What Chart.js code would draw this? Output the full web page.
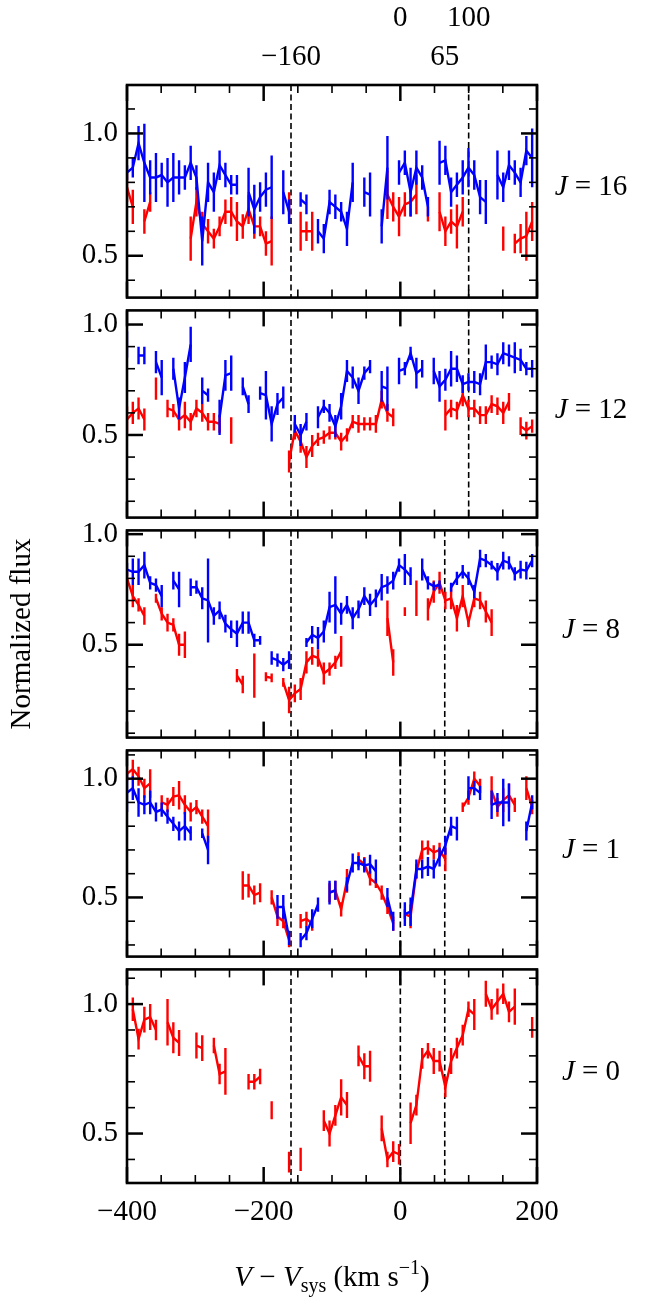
<!DOCTYPE html>
<html>
<head>
<meta charset="utf-8">
<script src="https://cdn.jsdelivr.net/npm/chart.js@4.4.0/dist/chart.umd.min.js"></script>
<style>
  body { margin: 0; background: #fff; width: 654px; height: 1299px; position: relative; overflow: hidden; }
  canvas { position: absolute; left: 0; }
</style>
</head>
<body>
<script>
// velocity grid (km/s)
const vel = [
  -400,-391.5,-383.1,-374.6,-366.1,-357.6,-349.2,-340.7,-332.2,-323.8,
  -315.3,-306.8,-298.4,-289.9,-281.4,-272.9,-264.5,-256,-247.5,-239.1,
  -230.6,-222.1,-213.7,-205.2,-196.7,-188.3,-179.8,-171.3,-162.8,-154.4,
  -145.9,-137.4,-129,-120.5,-112,-103.6,-95.1,-86.6,-78.1,-69.7,
  -61.2,-52.7,-44.3,-35.8,-27.3,-18.9,-10.4,-1.9,6.6,15,
  23.5,32,40.4,48.9,57.4,65.9,74.3,82.8,91.3,99.7,
  108.2,116.7,125.1,133.6,142.1,150.6,159,167.5,176,184.4,
  192.9
];

// J = 16
const blue16 = [0.84,0.86,0.96,0.88,0.82,0.82,0.83,0.80,0.82,0.82,
  0.82,0.88,0.82,0.56,0.80,0.76,0.87,0.83,0.79,0.79,
  null,0.76,0.69,0.74,0.77,0.78,null,0.76,0.68,null,
  0.73,0.71,null,0.60,0.57,0.72,0.70,0.68,0.61,0.80,
  null,0.76,0.75,null,0.62,0.86,null,0.84,0.88,0.76,
  0.86,0.82,0.70,null,0.88,0.89,0.76,0.79,0.82,0.86,
  0.83,0.74,0.72,null,0.83,0.78,0.87,0.84,0.80,0.93,
  0.90];
const blue16Err = [.03,.04,.07,.16,.07,.10,.05,.10,.10,.07,
  .05,.07,.05,.10,.08,.08,.06,.05,.04,.04,
  0,.10,.10,.06,.07,.13,0,.09,.05,0,
  .03,.04,0,.05,.06,.05,.05,.04,.07,.08,
  0,.06,.09,0,.07,.13,0,.05,.05,.10,
  .07,.05,.04,0,.09,.06,.06,.05,.07,.08,
  .06,.07,.09,0,.10,.06,.06,.05,.06,.06,
  .12];
const red16 = [0.78,0.70,null,0.64,0.72,null,null,null,null,null,
  null,0.57,0.72,0.63,0.60,0.57,0.62,0.68,0.68,0.64,
  0.62,0.69,0.62,0.62,0.55,0.56,null,null,0.71,null,
  0.60,0.60,0.60,null,null,null,null,null,null,null,
  null,null,null,null,null,0.75,0.70,0.66,0.71,0.72,
  0.75,null,0.67,null,0.68,0.60,0.64,0.62,0.68,null,
  null,null,null,null,null,0.57,null,0.55,0.57,0.58,
  0.64];
const red16Err = [.06,.07,0,.05,.04,0,0,0,0,0,
  0,.09,.06,.05,.05,.04,.04,.05,.06,.08,
  .05,.06,.05,.04,.05,.10,0,0,.05,0,
  .08,.04,.08,0,0,0,0,0,0,0,
  0,0,0,0,0,.10,.06,.08,.05,.06,
  .08,0,.03,0,.08,.06,.05,.09,.06,0,
  0,0,0,0,0,.05,0,.04,.06,.10,
  .08];

// J = 12
const blue12 = [0.91,null,0.86,0.86,null,0.83,0.76,null,0.80,0.62,
  0.76,0.91,null,0.70,0.68,null,0.58,0.77,0.78,null,
  0.72,0.64,null,0.69,0.68,0.55,0.64,0.67,null,0.55,
  0.50,0.56,null,0.58,0.63,0.60,0.54,0.63,0.79,0.76,
  0.70,0.78,0.81,null,0.72,0.71,null,0.79,0.80,0.87,
  0.78,0.80,null,0.79,0.72,0.75,0.80,0.80,0.73,0.74,
  0.74,0.73,0.83,0.83,0.82,0.87,0.86,0.85,0.84,0.80,
  0.80];
const blue12Err = [.06,0,.04,.04,0,.05,.08,0,.05,.05,
  .07,.08,0,.06,.03,0,.08,.07,.08,0,
  .04,.04,0,.03,.11,.08,.05,.05,0,.04,
  .05,.04,0,.05,.03,.04,.05,.06,.05,.05,
  .06,.03,.03,0,.07,.10,0,.06,.03,.03,
  .07,.04,0,.06,.07,.05,.08,.06,.04,.04,
  .05,.05,.08,.03,.05,.05,.05,.07,.05,.03,
  .04];
const red12 = [0.57,0.60,0.62,0.57,null,0.71,null,0.62,0.61,0.57,
  0.59,0.56,0.62,0.60,0.56,0.56,0.55,null,0.52,null,
  null,null,null,null,null,null,null,null,0.38,0.52,
  0.47,0.40,0.45,0.48,0.49,0.51,0.51,0.47,0.50,0.56,
  0.55,0.55,0.55,0.55,0.66,0.60,0.58,null,null,null,
  null,null,null,null,null,0.59,0.62,0.61,0.68,0.62,
  0.62,0.59,0.59,0.64,0.63,0.60,0.65,null,0.54,0.52,
  0.54];
const red12Err = [.06,.05,.05,.05,0,.05,0,.04,.03,.05,
  .06,.04,.04,.04,.04,.04,.04,0,.06,0,
  0,0,0,0,0,0,0,0,.05,.04,
  .05,.05,.05,.03,.03,.03,.03,.04,.03,.03,
  .04,.03,.03,.04,.04,.04,.04,0,0,0,
  0,0,0,0,0,.07,.04,.04,.05,.04,
  .04,.04,.04,.04,.04,.05,.04,0,.04,.04,
  .03];

// J = 8
const blue8 = [0.84,0.83,0.83,0.86,0.78,0.77,0.72,null,0.79,0.75,
  null,0.76,0.76,0.71,0.70,0.63,0.655,0.595,0.57,0.55,
  0.60,0.60,0.52,0.52,null,0.44,0.43,0.41,0.43,null,
  null,0.51,0.545,0.53,0.56,0.67,0.68,0.64,0.68,0.62,
  0.66,0.72,0.68,0.71,0.76,0.77,0.79,0.86,0.84,0.81,
  null,0.84,0.78,0.765,0.77,null,0.76,0.80,0.83,0.80,
  0.74,0.89,0.88,0.86,0.83,0.88,0.87,0.82,0.84,0.835,
  0.88];
const blue8Err = [.03,.06,.06,.06,.03,.03,.05,0,.04,.08,
  0,.04,.03,.05,.19,.04,.04,.04,.04,.06,
  .05,.05,.03,.02,0,.03,.03,.03,.04,0,
  0,.02,.04,.05,.05,.07,.13,.05,.04,.05,
  .04,.04,.05,.04,.06,.04,.04,.03,.07,.04,
  0,.05,.03,.02,.02,0,.02,.03,.03,.03,
  .03,.04,.03,.02,.04,.04,.03,.03,.04,.04,
  .03];
const red8 = [0.80,0.72,0.68,0.63,null,0.71,0.64,0.60,0.59,0.50,
  0.50,null,null,null,null,null,null,null,null,0.36,
  0.32,null,0.36,null,0.355,0.35,null,0.33,0.25,0.28,
  0.30,0.42,0.45,0.44,0.37,0.39,0.42,0.47,null,null,
  null,null,null,null,null,0.62,0.42,null,0.65,null,
  0.71,null,0.66,0.74,0.78,0.70,0.71,0.62,0.72,0.60,
  0.71,0.70,0.65,0.60,null,null,null,null,null,null,
  null];
const red8Err = [.03,.05,.03,.04,0,.02,.03,.04,.03,.05,
  .06,0,0,0,0,0,0,0,0,.03,
  .04,0,.10,0,.02,.02,0,.02,.06,.04,
  .05,.05,.04,.04,.05,.03,.03,.07,0,0,
  0,0,0,0,0,.08,.06,0,.02,0,
  .08,0,.05,.05,.05,.04,.05,.06,.05,.02,
  .04,.04,.05,.06,0,0,0,0,0,0,
  0];

// J = 1
const blue1 = [0.94,0.96,0.90,0.89,0.90,0.86,0.87,0.84,0.81,0.78,
  0.80,0.77,null,0.77,0.70,null,null,null,null,null,
  null,null,null,null,null,null,0.46,0.46,0.33,null,
  0.32,0.35,0.41,0.47,null,0.52,0.53,null,0.555,0.645,
  0.645,0.635,0.64,0.61,null,0.50,0.40,null,0.43,0.44,
  0.62,0.62,0.63,0.62,0.67,0.72,0.80,0.79,null,0.96,
  0.96,0.94,null,0.89,0.90,0.90,0.90,null,null,0.78,
  0.90];
const blue1Err = [.08,.05,.06,.04,.05,.04,.03,.03,.03,.04,
  .06,.03,0,.02,.06,0,0,0,0,0,
  0,0,0,0,0,0,.05,.05,.03,0,
  .03,.03,.04,.03,0,.05,.04,0,.03,.04,
  .03,.03,.04,.05,0,.04,.04,0,.05,.06,
  .04,.04,.04,.04,.04,.04,.04,.05,0,.05,
  .03,.03,0,.06,.04,.10,.08,0,0,.04,
  .03];
const red1 = [1.02,1.04,1.01,0.96,0.98,null,0.90,0.89,0.925,0.93,
  0.89,0.86,0.88,0.84,0.80,null,null,null,null,null,
  0.55,0.55,0.51,0.52,null,0.50,0.42,0.40,0.32,null,
  0.40,0.41,0.39,null,null,0.52,0.53,0.45,0.57,null,
  0.66,0.64,0.58,0.56,0.52,0.46,0.39,null,0.43,0.42,
  0.61,0.70,0.71,0.69,0.70,0.66,null,null,0.88,0.92,
  1.00,0.97,null,0.95,0.88,0.91,0.93,0.89,null,0.96,
  0.88];
const red1Err = [.03,.04,.04,.04,.06,0,.03,.03,.04,.06,
  .04,.04,.03,.03,.07,0,0,0,0,0,
  .06,.05,.04,.04,0,.03,.04,.03,.03,0,
  .03,.03,.03,0,0,.04,.04,.03,.05,0,
  .03,.03,.03,.02,.03,.03,.03,0,.02,.05,
  .03,.04,.03,.03,.03,.05,0,0,.02,.03,
  .03,.03,0,.06,.04,.05,.05,.03,0,.05,
  .03];

// J = 0
const red0 = [null,0.98,0.865,0.94,0.95,0.90,null,0.93,0.87,0.85,
  null,null,0.84,0.83,null,0.84,0.73,0.74,null,null,
  null,0.70,0.70,0.72,null,0.59,null,null,0.39,null,
  0.40,null,null,null,0.55,0.50,0.57,0.64,0.61,null,
  0.80,0.76,0.76,null,0.52,0.40,0.43,0.42,null,0.54,
  0.61,0.79,0.82,0.78,0.78,0.68,0.78,0.83,0.88,0.98,
  0.96,null,1.04,0.98,1.01,1.04,0.97,0.99,null,null,
  0.91];
const red0Err = [0,.045,.04,.05,.05,.04,0,.09,.06,.05,
  0,0,.05,.05,0,.03,.04,.09,0,0,
  0,.03,.03,.03,0,.035,0,0,.04,0,
  .045,0,0,0,.04,.05,.04,.07,.05,0,
  .04,.05,.06,0,.05,.03,.04,.04,0,.08,
  .04,.04,.03,.05,.04,.04,.05,.04,.04,.03,
  .06,0,.05,.04,.05,.04,.04,.07,0,0,
  .04];

// ticks and marked velocities
const xTickValues = [-400,-350,-300,-250,-200,-150,-100,-50,0,50,100,150,200];
const xTickLabels = [-400,-200,0,200];
const yTickValues = [0.1,0.2,0.3,0.4,0.5,0.6,0.7,0.8,0.9,1.0,1.1];
const yTickLabels = [0.5,1.0];
const topMarks = [-160,0,65,100];

const panels = [
  {label:'16', blue:blue16, blueErr:blue16Err, red:red16, redErr:red16Err, min:0.329, max:1.198, marks:[-160,100]},
  {label:'12', blue:blue12, blueErr:blue12Err, red:red12, redErr:red12Err, min:0.126, max:1.064, marks:[-160,100]},
  {label:'8',  blue:blue8,  blueErr:blue8Err,  red:red8,  redErr:red8Err,  min:0.08,  max:1.017, marks:[-160,65]},
  {label:'1',  blue:blue1,  blueErr:blue1Err,  red:red1,  redErr:red1Err,  min:0.251, max:1.119, marks:[-160,0,65]},
  {label:'0',  blue:null,   blueErr:null,      red:red0,  redErr:red0Err,  min:0.309, max:1.134, marks:[-160,0,65]}
];

const edges = [85, 304, 524, 744, 963, 1183];
const serif = "'Liberation Serif', 'Times New Roman', serif";
const fs = 29;
const lw = 2.4;

const minus = v => (v < 0 ? '\u2212' + Math.abs(v) : '' + v);

function drawRuns(ctx, runs, cx, base) {
  let w = 0;
  runs.forEach(r => {
    ctx.font = (r.it ? 'italic ' : '') + (r.size || fs) + 'px ' + serif;
    r.w = ctx.measureText(r.t).width;
    w += r.w;
  });
  let x = cx - w / 2;
  ctx.fillStyle = '#000';
  ctx.textAlign = 'left';
  ctx.textBaseline = 'alphabetic';
  runs.forEach(r => {
    ctx.font = (r.it ? 'italic ' : '') + (r.size || fs) + 'px ' + serif;
    ctx.fillText(r.t, x, base + (r.dy || 0));
    x += r.w;
  });
}

// error bars, drawn right after each line
const errorBars = {
  id: 'errorBars',
  afterDatasetDraw(chart, args) {
    const ds = chart.data.datasets[args.index];
    if (!ds.errors) return;
    const {ctx, chartArea: a} = chart;
    const xs = chart.scales.x, ys = chart.scales.y;
    ctx.save();
    ctx.beginPath();
    ctx.rect(a.left, a.top, a.right - a.left, a.bottom - a.top);
    ctx.clip();
    ctx.strokeStyle = ds.borderColor;
    ctx.lineWidth = lw;
    ds.data.forEach((p, i) => {
      if (p.y == null) return;
      const e = ds.errors[i];
      const px = xs.getPixelForValue(p.x);
      ctx.beginPath();
      ctx.moveTo(px, ys.getPixelForValue(p.y - e));
      ctx.lineTo(px, ys.getPixelForValue(p.y + e));
      ctx.stroke();
    });
    ctx.restore();
  }
};

// frame, inward ticks, dashed marks and labels
const deco = {
  id: 'deco',
  beforeDatasetsDraw(chart, args, opts) {
    const {ctx, chartArea: a} = chart;
    const xs = chart.scales.x;
    ctx.save();
    ctx.strokeStyle = '#000';
    ctx.lineWidth = 1.6;
    ctx.setLineDash([6, 3.5]);
    opts.marks.forEach(m => {
      const px = xs.getPixelForValue(m);
      ctx.beginPath();
      ctx.moveTo(px, a.top);
      ctx.lineTo(px, a.bottom);
      ctx.stroke();
    });
    ctx.restore();
  },
  afterDraw(chart, args, opts) {
    const {ctx, chartArea: a} = chart;
    const xs = chart.scales.x, ys = chart.scales.y;
    ctx.save();
    ctx.strokeStyle = '#000';
    const seg = (x1, y1, x2, y2) => { ctx.beginPath(); ctx.moveTo(x1, y1); ctx.lineTo(x2, y2); ctx.stroke(); };
    xTickValues.forEach(v => {
      const major = xTickLabels.includes(v);
      const len = major ? 16 : 8;
      ctx.lineWidth = major ? 2.5 : 1.6;
      const px = xs.getPixelForValue(v);
      seg(px, a.top, px, a.top + len);
      seg(px, a.bottom, px, a.bottom - len);
    });
    yTickValues.forEach(v => {
      if (v < ys.min || v > ys.max) return;
      const major = yTickLabels.includes(v);
      const len = major ? 16 : 8;
      ctx.lineWidth = major ? 2.5 : 1.6;
      const py = ys.getPixelForValue(v);
      seg(a.left, py, a.left + len, py);
      seg(a.right, py, a.right - len, py);
    });
    ctx.lineWidth = 2.6;
    ctx.strokeRect(a.left, a.top, a.right - a.left, a.bottom - a.top);

    drawRuns(ctx, [{t: 'J', it: true}, {t: ' = ' + opts.label}], 591, (a.top + a.bottom) / 2 + 4);

    if (opts.xTitle) {
      drawRuns(ctx, [
        {t: 'V', it: true}, {t: ' \u2212 '}, {t: 'V', it: true},
        {t: 'sys', size: 20, dy: 6}, {t: ' (km s'}, {t: '\u22121', size: 20, dy: -12}, {t: ')'}
      ], (a.left + a.right) / 2, 1286 - chart.canvas.offsetTop);
    }
    ctx.restore();
  }
};

panels.forEach((p, idx) => {
  const first = idx === 0, last = idx === panels.length - 1;
  const top = first ? 0 : edges[idx] - 20;
  const bottom = last ? 1299 : edges[idx + 1] + 20;
  const cv = document.createElement('canvas');
  cv.width = 654;
  cv.height = bottom - top;
  cv.style.top = top + 'px';
  cv.style.width = '654px';
  cv.style.height = (bottom - top) + 'px';
  document.body.appendChild(cv);

  const datasets = [];
  const line = (vals, errs, color) => ({
    data: vel.map((v, i) => ({x: v, y: vals[i]})),
    errors: errs,
    borderColor: color,
    borderWidth: lw,
    pointRadius: 0,
    tension: 0,
    spanGaps: false,
    fill: false
  });
  if (p.blue) datasets.push(line(p.blue, p.blueErr, '#0000ff'));
  datasets.push(line(p.red, p.redErr, '#ff0000'));

  const tickFont = {family: serif, size: fs};
  const scales = {
    x: {
      type: 'linear', min: -400, max: 200, display: last,
      grid: {display: false, drawTicks: false}, border: {display: false},
      afterBuildTicks: s => { s.ticks = xTickLabels.map(v => ({value: v})); },
      afterFit: s => { if (last) s.height = 116; },
      ticks: {padding: 11.5, color: '#000', font: tickFont, maxRotation: 0, autoSkip: false, callback: v => minus(v)}
    },
    y: {
      type: 'linear', min: p.min, max: p.max,
      grid: {display: false, drawTicks: false}, border: {display: false},
      afterBuildTicks: s => { s.ticks = yTickLabels.map(v => ({value: v})); },
      afterFit: s => { s.width = 127; },
      ticks: {padding: 9, color: '#000', font: tickFont, autoSkip: false, callback: v => v.toFixed(1)},
      title: {display: idx === 2, text: 'Normalized flux', color: '#000', font: {family: serif, size: fs}, padding: {top: 4.6, bottom: 0}}
    }
  };
  if (first) {
    scales.top = {
      type: 'linear', position: 'top', min: -400, max: 200,
      grid: {display: false, drawTicks: false}, border: {display: false},
      afterBuildTicks: s => { s.ticks = topMarks.map(v => ({value: v})); },
      afterFit: s => { s.height = 85; },
      ticks: {
        padding: 8.5, color: '#000', maxRotation: 0, autoSkip: false,
        font: {family: serif, size: fs, lineHeight: 39 / 29},
        callback: v => (v === 0 || v === 100) ? [minus(v), ''] : ['', minus(v)]
      }
    };
  }

  new Chart(cv, {
    type: 'line',
    data: {datasets},
    options: {
      responsive: false,
      animation: false,
      devicePixelRatio: 1,
      layout: {padding: {left: 0, right: 117, top: first ? 0 : 20, bottom: last ? 0 : 20}},
      plugins: {
        legend: {display: false},
        tooltip: {enabled: false},
        deco: {label: p.label, marks: p.marks, xTitle: last}
      },
      scales
    },
    plugins: [errorBars, deco]
  });
});
</script>
</body>
</html>
